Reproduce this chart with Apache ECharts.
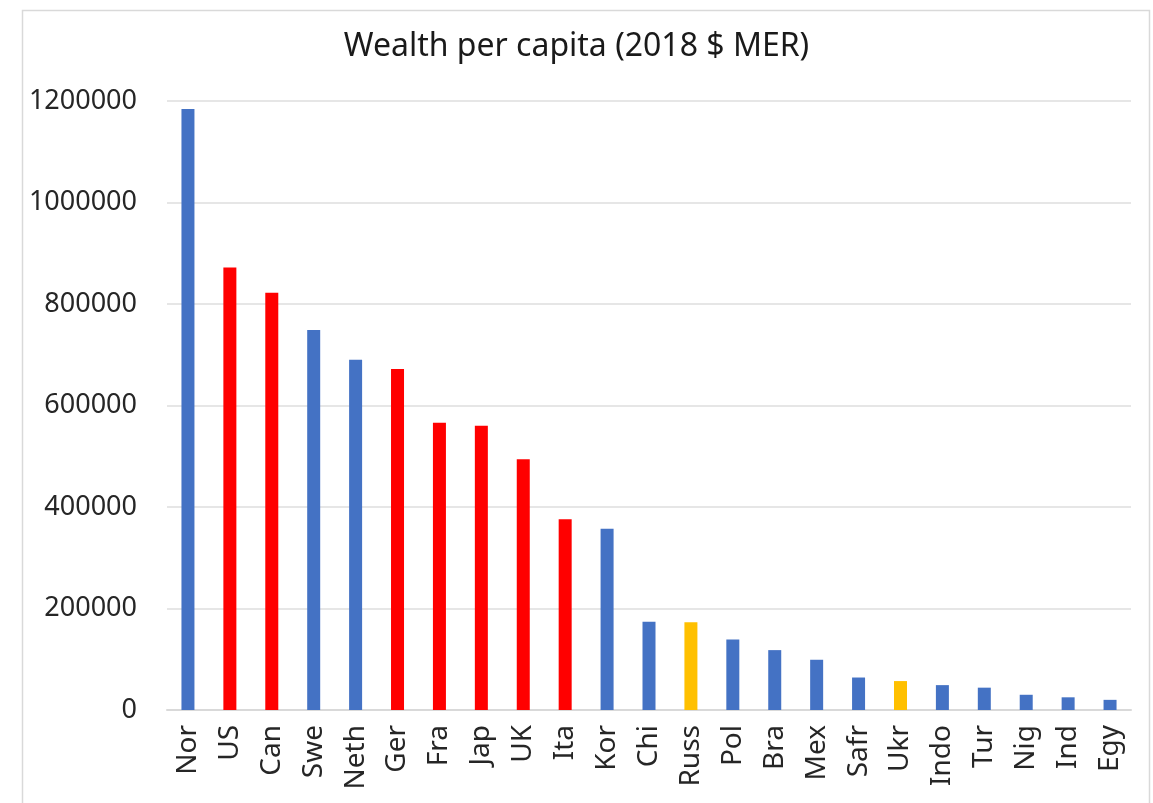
<!DOCTYPE html>
<html>
<head>
<meta charset="utf-8">
<title>Wealth per capita</title>
<script src="https://cdn.jsdelivr.net/npm/echarts@6/dist/echarts.min.js"></script>
<style>
  html, body { margin: 0; padding: 0; background: #fff; }
  #chart { width: 1153px; height: 803px; }
</style>
</head>
<body>
<div id="chart"></div>
<script>
const countries = ['Nor', 'US', 'Can', 'Swe', 'Neth', 'Ger', 'Fra', 'Jap', 'UK', 'Ita', 'Kor', 'Chi',
  'Russ', 'Pol', 'Bra', 'Mex', 'Safr', 'Ukr', 'Indo', 'Tur', 'Nig', 'Ind', 'Egy']
const wealth = [1184000, 872000, 822000, 749000, 690000, 672000, 566000, 560000, 494000, 376000, 357000, 174000,
  173000, 139000, 118000, 99000, 64000, 57000, 49000, 44000, 30000, 25000, 20000]
// which highlight group each bar belongs to
const groups = ['other', 'g7', 'g7', 'other', 'other', 'g7', 'g7', 'g7', 'g7', 'g7', 'other', 'other',
  'focus', 'other', 'other', 'other', 'other', 'focus', 'other', 'other', 'other', 'other', 'other']
const yTicks = [0, 200000, 400000, 600000, 800000, 1000000, 1200000]

const groupColor = { other: '#4472C4', g7: '#FF0000', focus: '#FFC000' }
const font = '"Noto Sans", "Open Sans", sans-serif'

const chart = echarts.init(document.getElementById('chart'))

chart.setOption({
  animation: false,
  backgroundColor: '#fff',
  graphic: [{
    type: 'rect',
    left: 20, top: 8,
    shape: { width: 1127, height: 820 },
    style: { fill: 'none', stroke: '#d9d9d9', lineWidth: 1.5 },
    silent: true
  }],
  title: {
    text: 'Wealth per capita (2018 $ MER)',
    left: 'center',
    top: 26,
    textStyle: { fontFamily: font, fontSize: 32, fontWeight: 'normal', color: '#1a1a1a' }
  },
  grid: { left: 167, right: 22, top: 101, bottom: 93, containLabel: false },
  xAxis: {
    type: 'category',
    data: countries,
    axisLine: { lineStyle: { color: '#d9d9d9', width: 2 } },
    axisTick: { show: false },
    axisLabel: {
      rotate: 90,
      interval: 0,
      margin: 15,
      fontFamily: font,
      fontSize: 28,
      color: '#262626'
    }
  },
  yAxis: {
    type: 'value',
    min: yTicks[0],
    max: yTicks[yTicks.length - 1],
    interval: yTicks[1] - yTicks[0],
    axisLine: { show: false },
    axisTick: { show: false },
    splitLine: { lineStyle: { color: '#e6e6e6', width: 2 } },
    axisLabel: {
      margin: 30,
      fontFamily: font,
      fontSize: 27,
      color: '#262626',
      formatter: v => String(v)
    }
  },
  series: [{
    type: 'bar',
    barWidth: 13,
    data: wealth.map((v, i) => ({
      value: v,
      itemStyle: { color: groupColor[groups[i]] }
    }))
  }]
})
</script>
</body>
</html>
